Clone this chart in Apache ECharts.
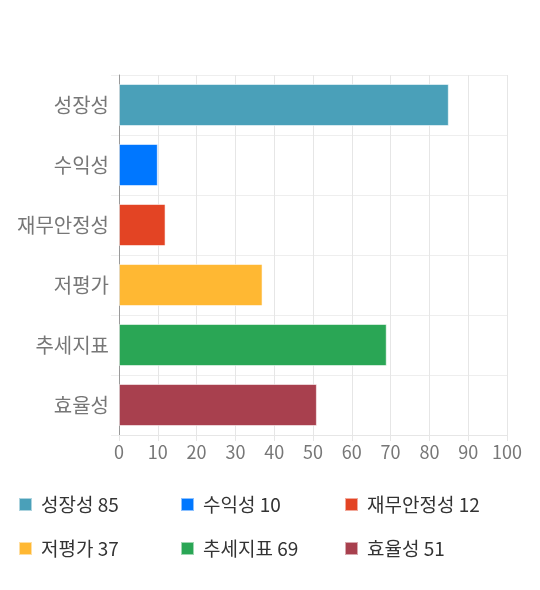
<!DOCTYPE html>
<html lang="ko">
<head>
    <meta charset="UTF-8">
    <script src="https://cdn.jsdelivr.net/npm/echarts@6/dist/echarts.min.js"></script>
    <title>지표</title>
    <style>
    html, body { margin: 0; padding: 0; background: #fff; }
    #chart { width: 540px; height: 590px; }
    </style>
</head>
<body>
    <div id="chart"></div>
    <script type="text/javascript">
    var categories = ['성장성', '수익성', '재무안정성', '저평가', '추세지표', '효율성'];
    var values = [85, 10, 12, 37, 69, 51];
    var colors = ['#4aa0b9', '#0077ff', '#e34424', '#ffb833', '#2aa655', '#a8404e'];
    var xTicks = { min: 0, max: 100, interval: 10 };

    var font = '"Noto Sans CJK KR", "Noto Sans", sans-serif';
    var chart = echarts.init(document.getElementById('chart'));

    // 카테고리마다 시리즈 하나 (범례용)
    var series = categories.map(function(name, i) {
        var data = categories.map(function(c, j) { return j === i ? values[i] : '-'; });
        return {
            name: name,
            type: 'bar',
            data: data,
            barWidth: 42,
            barGap: '-100%',
            itemStyle: {
                color: colors[i],
                borderColor: 'rgba(255,255,255,0.55)',
                borderWidth: 1
            },
            silent: true
        };
    });

    // 범례: 3열 2행
    var colX = [18, 180, 344];
    var rowY = [495, 539];
    var legends = categories.map(function(name, i) {
        return {
            left: colX[i % 3],
            top: rowY[Math.floor(i / 3)],
            padding: 0,
            data: [name],
            icon: 'rect',
            itemWidth: 13,
            itemHeight: 13,
            itemGap: 0,
            selectedMode: false,
            formatter: function(n) { return n + ' ' + values[categories.indexOf(n)]; },
            textStyle: { fontFamily: font, fontSize: 19, color: '#333', padding: [0, 0, 0, 4] }
        };
    });

    var option = {
        animation: false,
        grid: { left: 119, right: 33, top: 75, bottom: 155, containLabel: false },
        legend: legends,
        xAxis: {
            type: 'value',
            min: xTicks.min,
            max: xTicks.max,
            interval: xTicks.interval,
            axisLine: { show: true, lineStyle: { color: '#e6e6e6' } },
            axisTick: { show: true, length: 6, lineStyle: { color: '#e6e6e6' } },
            splitLine: { show: true, lineStyle: { color: '#e6e6e6' } },
            axisLabel: { fontFamily: font, fontSize: 18, color: '#777', margin: 8 }
        },
        yAxis: {
            type: 'category',
            inverse: true,
            data: categories,
            axisLine: { show: true, lineStyle: { color: '#999' } },
            axisTick: { show: true, length: 8, lineStyle: { color: '#eee' } },
            splitLine: { show: true, lineStyle: { color: '#eee' } },
            axisLabel: { fontFamily: font, fontSize: 20, color: '#777', margin: 10 }
        },
        series: series
    };
    chart.setOption(option);
    </script>
</body>
</html>
